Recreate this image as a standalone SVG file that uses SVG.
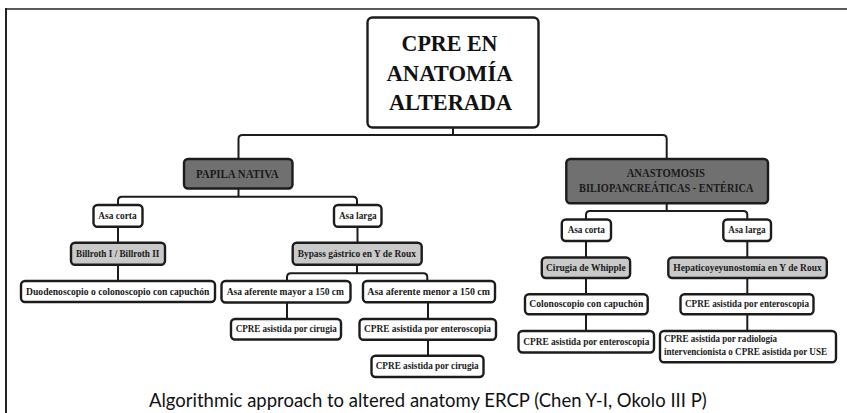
<svg xmlns="http://www.w3.org/2000/svg" width="847" height="413" viewBox="0 0 847 413">
  <style>
    .node rect { stroke: #1c1c1c; stroke-width: 2.4; }
    .white { fill: #ffffff; }
    .dark { fill: #707070; }
    .light { fill: #c9c9c9; }
    .t { font-family: "Liberation Serif", "Times New Roman", serif; font-weight: bold; fill: #1a1a1a; text-anchor: middle; }
    .s { font-size: 10.3px; }
    .xs { font-size: 9.3px; }
    .m { font-size: 12px; }
    .title { font-size: 24px; fill: #111; }
    .left { text-anchor: start; }
    #connectors path { fill: none; stroke: #1c1c1c; stroke-width: 2; }
    .caption { font-family: Lato, "Liberation Sans", sans-serif; font-size: 19.5px; fill: #111; }
  </style>

  <rect x="0" y="0" width="847" height="413" fill="#ffffff"/>

  <!-- outer frame -->
  <line x1="5" y1="9" x2="847" y2="9" stroke="#5a5a5a" stroke-width="2"/>
  <line x1="6" y1="8" x2="6" y2="413" stroke="#222222" stroke-width="2"/>

  <g id="connectors">
    <path d="M453 127.5 V135"/>
    <path d="M238.5 159 V139 Q238.5 135 242.5 135 H662.7 Q666.7 135 666.7 139 V159"/>
    <path d="M238.5 188.5 V196.7"/>
    <path d="M118 205 V200.7 Q118 196.7 122 196.7 H353 Q357 196.7 357 200.7 V205"/>
    <path d="M118 226.7 V242.7"/>
    <path d="M118 264.7 V281"/>
    <path d="M357.5 226.7 V242.7"/>
    <path d="M357 264.7 V273.3"/>
    <path d="M287 281 V277.3 Q287 273.3 291 273.3 H423.3 Q427.3 273.3 427.3 277.3 V281"/>
    <path d="M287 302.5 V319"/>
    <path d="M428 302.3 V319"/>
    <path d="M428 339.8 V355.7"/>
    <path d="M666.7 203.3 V211"/>
    <path d="M586 219.5 V215 Q586 211 590 211 H743.3 Q747.3 211 747.3 215 V219.5"/>
    <path d="M586 241 V257.5"/>
    <path d="M586 278 V294.3"/>
    <path d="M586 314.3 V331"/>
    <path d="M747.3 241 V257.5"/>
    <path d="M747.3 278 V294.3"/>
    <path d="M747.3 314.3 V331"/>
  </g>

  <g id="root" class="node">
    <rect class="white" x="367.5" y="17.5" width="171" height="110" rx="5"/>
    <text class="t title" x="449.5" y="50.7" textLength="96" lengthAdjust="spacingAndGlyphs">CPRE EN</text>
    <text class="t title" x="449.5" y="80.7" textLength="126" lengthAdjust="spacingAndGlyphs">ANATOMÍA</text>
    <text class="t title" x="450.5" y="110" textLength="123" lengthAdjust="spacingAndGlyphs">ALTERADA</text>
  </g>

  <g id="papila-nativa" class="node">
    <rect class="dark" x="184" y="159" width="108.5" height="29.5" rx="4"/>
    <text class="t m" x="237.3" y="177.5" textLength="82.7" lengthAdjust="spacingAndGlyphs">PAPILA NATIVA</text>
  </g>

  <g id="anastomosis" class="node">
    <rect class="dark" x="566.3" y="159" width="201.7" height="44.3" rx="4"/>
    <text class="t m" x="665.8" y="177.3" textLength="78.3" lengthAdjust="spacingAndGlyphs">ANASTOMOSIS</text>
    <text class="t m" x="666.2" y="192.3" textLength="174.3" lengthAdjust="spacingAndGlyphs">BILIOPANCREÁTICAS - ENTÉRICA</text>
  </g>

  <g id="asa-corta-1" class="node">
    <rect class="white" x="93.5" y="205" width="49" height="21.7" rx="4"/>
    <text class="t s" x="117.5" y="218.7" textLength="38.3" lengthAdjust="spacingAndGlyphs">Asa corta</text>
  </g>

  <g id="asa-larga-1" class="node">
    <rect class="white" x="334" y="205" width="47.5" height="21.7" rx="4"/>
    <text class="t s" x="357.8" y="218.7" textLength="37.7" lengthAdjust="spacingAndGlyphs">Asa larga</text>
  </g>

  <g id="billroth" class="node">
    <rect class="light" x="71" y="242.7" width="94" height="22" rx="4"/>
    <text class="t s" x="117.7" y="256.7" textLength="83.3" lengthAdjust="spacingAndGlyphs">Billroth I / Billroth II</text>
  </g>

  <g id="bypass" class="node">
    <rect class="light" x="292.7" y="242.7" width="129" height="22" rx="4"/>
    <text class="t s" x="356.8" y="256.7" textLength="118.3" lengthAdjust="spacingAndGlyphs">Bypass gástrico en Y de Roux</text>
  </g>

  <g id="duodenoscopio" class="node">
    <rect class="white" x="21" y="281" width="194" height="21" rx="4"/>
    <text class="t s" x="117.7" y="294.5" textLength="183.3" lengthAdjust="spacingAndGlyphs">Duodenoscopio o colonoscopio con capuchón</text>
  </g>

  <g id="aferente-mayor" class="node">
    <rect class="white" x="221.5" y="281" width="129" height="21.5" rx="4"/>
    <text class="t s" x="285.3" y="294.5" textLength="117.3" lengthAdjust="spacingAndGlyphs">Asa aferente mayor a 150 cm</text>
  </g>

  <g id="aferente-menor" class="node">
    <rect class="white" x="363" y="281" width="132" height="21.3" rx="4"/>
    <text class="t s" x="428.7" y="294.5" textLength="122.7" lengthAdjust="spacingAndGlyphs">Asa aferente menor a 150 cm</text>
  </g>

  <g id="cirugia-1" class="node">
    <rect class="white" x="231" y="319" width="110" height="20.5" rx="4"/>
    <text class="t s" x="286.2" y="332.3" textLength="101" lengthAdjust="spacingAndGlyphs">CPRE asistida por cirugia</text>
  </g>

  <g id="enteroscopia-1" class="node">
    <rect class="white" x="359.5" y="319" width="136.5" height="20.8" rx="4"/>
    <text class="t s" x="427.5" y="332.3" textLength="127" lengthAdjust="spacingAndGlyphs">CPRE asistida por enteroscopia</text>
  </g>

  <g id="cirugia-2" class="node">
    <rect class="white" x="371.5" y="355.7" width="112" height="21.3" rx="4"/>
    <text class="t s" x="427.2" y="369.2" textLength="103" lengthAdjust="spacingAndGlyphs">CPRE asistida por cirugia</text>
  </g>

  <g id="asa-corta-2" class="node">
    <rect class="white" x="561.8" y="219.5" width="49.2" height="21.5" rx="4"/>
    <text class="t s" x="586.3" y="233.3" textLength="37.3" lengthAdjust="spacingAndGlyphs">Asa corta</text>
  </g>

  <g id="asa-larga-2" class="node">
    <rect class="white" x="723.3" y="219.5" width="47.7" height="21.5" rx="4"/>
    <text class="t s" x="747" y="233.3" textLength="37.3" lengthAdjust="spacingAndGlyphs">Asa larga</text>
  </g>

  <g id="whipple" class="node">
    <rect class="light" x="541.8" y="257.5" width="88.3" height="20.5" rx="4"/>
    <text class="t s" x="585.8" y="270.9" textLength="79.7" lengthAdjust="spacingAndGlyphs">Cirugia de Whipple</text>
  </g>

  <g id="hepaticoyeyunostomia" class="node">
    <rect class="light" x="668.3" y="257.5" width="158.5" height="20.5" rx="4"/>
    <text class="t s" x="747.5" y="270.9" textLength="148.3" lengthAdjust="spacingAndGlyphs">Hepaticoyeyunostomía en Y de Roux</text>
  </g>

  <g id="colonoscopio" class="node">
    <rect class="white" x="525" y="294.3" width="122.7" height="20" rx="4"/>
    <text class="t s" x="586.3" y="307.3" textLength="114" lengthAdjust="spacingAndGlyphs">Colonoscopio con capuchón</text>
  </g>

  <g id="enteroscopia-2" class="node">
    <rect class="white" x="680.5" y="294.3" width="133" height="20" rx="4"/>
    <text class="t s" x="747" y="307.3" textLength="124" lengthAdjust="spacingAndGlyphs">CPRE asistida por enteroscopia</text>
  </g>

  <g id="enteroscopia-3" class="node">
    <rect class="white" x="518.5" y="331" width="135.5" height="21.5" rx="4"/>
    <text class="t s" x="586.3" y="345" textLength="126" lengthAdjust="spacingAndGlyphs">CPRE asistida por enteroscopia</text>
  </g>

  <g id="radiologia" class="node">
    <rect class="white" x="660" y="331" width="176" height="31.3" rx="4"/>
    <text class="t xs left" x="664" y="342" textLength="113" lengthAdjust="spacingAndGlyphs">CPRE asistida por radiología</text>
    <text class="t xs left" x="664" y="354.7" textLength="163" lengthAdjust="spacingAndGlyphs">intervencionista o CPRE asistida por USE</text>
  </g>

  <text class="caption" x="149" y="406.5" textLength="557.7" lengthAdjust="spacingAndGlyphs">Algorithmic approach to altered anatomy ERCP (Chen Y-I, Okolo III P)</text>
</svg>
